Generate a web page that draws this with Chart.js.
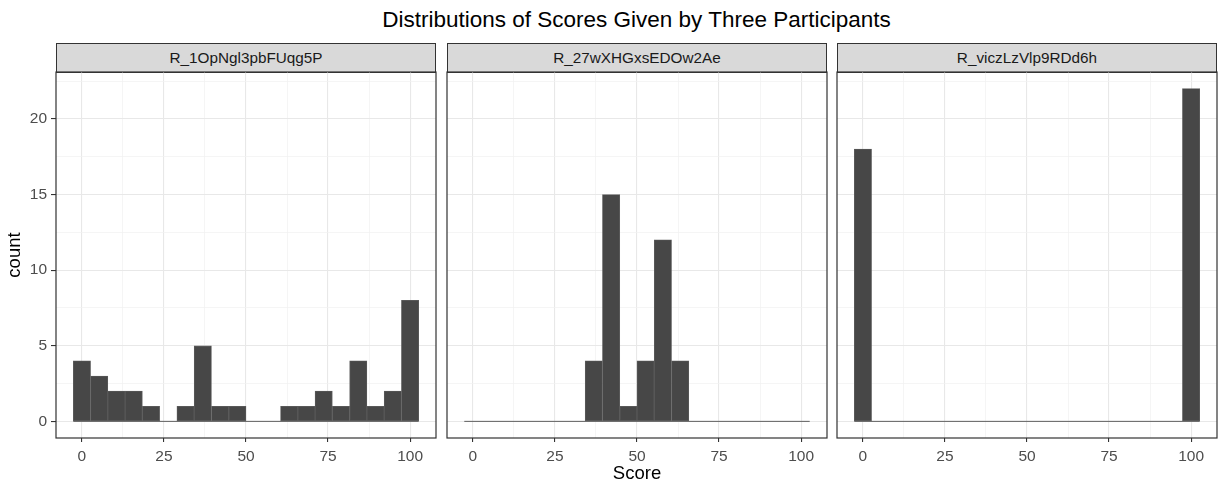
<!DOCTYPE html>
<html>
<head>
<meta charset="utf-8">
<script src="https://cdn.jsdelivr.net/npm/chart.js@4.4.0/dist/chart.umd.min.js"></script>
<style>
  body { margin: 0; background: #fff; font-family: "Liberation Sans", Arial, sans-serif; }
  #wrap { position: relative; width: 1220px; height: 483px; overflow: hidden; }
  #title { position: absolute; left: 56px; width: 1161px; top: 6px; height: 28px; line-height: 28px;
           text-align: center; font-size: 22.5px; color: #000; }
  .strip { position: absolute; top: 43px; height: 30px; box-sizing: border-box; border: 1.2px solid #333;
           background: #d9d9d9; color: #1a1a1a; font-size: 15.3px; display: flex; align-items: center; justify-content: center; }
  canvas { position: absolute; top: 70px; }
</style>
</head>
<body>
<div id="wrap">
  <div id="title">Distributions of Scores Given by Three Participants</div>
  <div class="strip" style="left:56px;width:380px">R_1OpNgl3pbFUqg5P</div>
  <div class="strip" style="left:447px;width:380px">R_27wXHGxsEDOw2Ae</div>
  <div class="strip" style="left:837px;width:380px">R_viczLzVlp9RDd6h</div>
  <canvas id="panel1" width="438" height="413" style="left:0px"></canvas>
  <canvas id="panel2" width="384" height="413" style="left:445px"></canvas>
  <canvas id="panel3" width="384" height="413" style="left:835px"></canvas>
</div>
<script>
// histogram bins (centres), 20 bins over 0..100
const binCenters = [0, 5.26, 10.53, 15.79, 21.05, 26.32, 31.58, 36.84, 42.11, 47.37,
                    52.63, 57.89, 63.16, 68.42, 73.68, 78.95, 84.21, 89.47, 94.74, 100];

const countsP1 = [4, 3, 2, 2, 1, 0, 1, 5, 1, 1, 0, 0, 1, 1, 2, 1, 4, 1, 2, 8];
const countsP2 = [0, 0, 0, 0, 0, 0, 0, 4, 15, 1, 4, 12, 4, 0, 0, 0, 0, 0, 0, 0];
const countsP3 = [18, 0, 0, 0, 0, 0, 0, 0, 0, 0, 0, 0, 0, 0, 0, 0, 0, 0, 0, 22];

const xMajor = [0, 25, 50, 75, 100];
const xMinor = [12.5, 37.5, 62.5, 87.5];
const yMajor = [0, 5, 10, 15, 20];
const yMinor = [2.5, 7.5, 12.5, 17.5, 22.5];

const xRange = [-7.9, 107.9];
const yRange = [-1.1, 23.1];

const fillCol = '#474747';
const edgeCol = '#5e5e5e';

// panel frame + zero line from bins with no counts
const framePlugin = {
    id: 'frame',
    beforeDatasetsDraw(chart) {
        const ctx = chart.ctx, x = chart.scales.x, y = chart.scales.y;
        const half = (binCenters[1] - binCenters[0]) / 2;
        ctx.save();
        ctx.strokeStyle = edgeCol;
        ctx.lineWidth = 1;
        ctx.beginPath();
        ctx.moveTo(x.getPixelForValue(binCenters[0] - half), y.getPixelForValue(0));
        ctx.lineTo(x.getPixelForValue(binCenters[binCenters.length - 1] + half), y.getPixelForValue(0));
        ctx.stroke();
        ctx.restore();
    },
    afterDraw(chart) {
        const a = chart.chartArea, ctx = chart.ctx;
        ctx.save();
        ctx.strokeStyle = '#333333';
        ctx.lineWidth = 1.2;
        ctx.strokeRect(a.left, a.top, a.right - a.left, a.bottom - a.top);
        ctx.restore();
    }
};

const isMajor = (c, list) => !!c.tick && list.some(m => Math.abs(m - c.tick.value) < 1e-6);
const isMajorVal = (v, list) => list.some(m => Math.abs(m - v) < 1e-6);

function makePanel(id, counts, first, middle, padLeft, padRight) {
    return new Chart(id, {
        type: 'bar',
        data: {
            datasets: [{
                data: binCenters.map((c, i) => ({ x: c, y: counts[i] })),
                backgroundColor: fillCol,
                borderColor: edgeCol,
                borderWidth: 0.8,
                borderSkipped: false,
                barPercentage: 1,
                categoryPercentage: 1
            }]
        },
        options: {
            responsive: false,
            animation: false,
            layout: { padding: { top: 2, left: padLeft, right: padRight, bottom: 0 } },
            plugins: {
                legend: { display: false },
                tooltip: { enabled: false }
            },
            scales: {
                x: {
                    type: 'linear',
                    min: xRange[0],
                    max: xRange[1],
                    offset: false,
                    afterBuildTicks: s => { s.ticks = [...xMajor, ...xMinor].sort((a, b) => a - b).map(v => ({ value: v })); },
                    afterFit: s => { s.height = 45; s.paddingLeft = 0; s.paddingRight = 0; },
                    border: { display: false },
                    grid: {
                        offset: false,
                        color: c => isMajor(c, xMajor) ? '#e8e8e8' : '#f1f1f1',
                        lineWidth: c => isMajor(c, xMajor) ? 1.1 : 0.7,
                        tickColor: c => isMajor(c, xMajor) ? '#333333' : 'rgba(0,0,0,0)',
                        tickLength: 4,
                        tickWidth: 1.1
                    },
                    ticks: {
                        autoSkip: false,
                        maxRotation: 0,
                        padding: 5,
                        color: '#4d4d4d',
                        font: { family: 'Liberation Sans', size: 15.5 },
                        callback: v => isMajorVal(v, xMajor) ? String(v) : ''
                    },
                    title: {
                        display: middle,
                        text: 'Score',
                        color: '#000',
                        padding: { top: 0, bottom: 0 },
                        font: { family: 'Liberation Sans', size: 18.5, lineHeight: 1 }
                    }
                },
                y: {
                    min: yRange[0],
                    max: yRange[1],
                    afterBuildTicks: s => { s.ticks = [...yMajor, ...yMinor].sort((a, b) => a - b).map(v => ({ value: v })); },
                    afterFit: s => { s.width = first ? 56 : 0; s.paddingTop = 0; s.paddingBottom = 0; },
                    border: { display: false },
                    grid: {
                        color: c => isMajor(c, yMajor) ? '#e8e8e8' : '#f1f1f1',
                        lineWidth: c => isMajor(c, yMajor) ? 1.1 : 0.7,
                        tickColor: c => isMajor(c, yMajor) ? '#333333' : 'rgba(0,0,0,0)',
                        drawTicks: first,
                        tickLength: 5,
                        tickWidth: 1.1
                    },
                    ticks: {
                        display: first,
                        autoSkip: false,
                        padding: 4,
                        color: '#4d4d4d',
                        font: { family: 'Liberation Sans', size: 15.5 },
                        callback: v => isMajorVal(v, yMajor) ? String(v) : ''
                    },
                    title: {
                        display: first,
                        text: 'count',
                        color: '#000',
                        padding: { top: 6, bottom: 0 },
                        font: { family: 'Liberation Sans', size: 18.5, lineHeight: 1 }
                    }
                }
            }
        },
        plugins: [framePlugin]
    });
}

window.addEventListener('DOMContentLoaded', () => {
    const chartP1 = makePanel('panel1', countsP1, true, false, 0, 2);
    const chartP2 = makePanel('panel2', countsP2, false, true, 2, 2);
    const chartP3 = makePanel('panel3', countsP3, false, false, 2, 2);
});
</script>
</body>
</html>
